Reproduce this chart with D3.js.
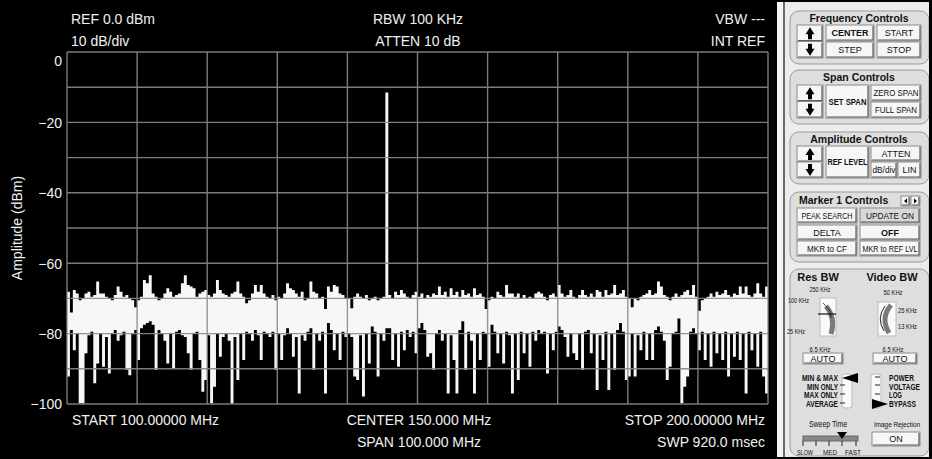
<!DOCTYPE html>
<html><head><meta charset="utf-8">
<script src="https://cdn.jsdelivr.net/npm/d3@7"></script>
<style>body{margin:0;background:#000}svg{display:block}</style>
</head><body>
<script>
// ---------- DATA ----------
const startMHz = 100, stopMHz = 200;
const yTicks = [0, -20, -40, -60, -80, -100];
const yGrid = [0, -10, -20, -30, -40, -50, -60, -70, -80, -90, -100];
const xGrid = [100, 110, 120, 130, 140, 150, 160, 170, 180, 190, 200];
const headerLeft = ["REF 0.0 dBm", "10 dB/div"];
const headerCenter = ["RBW 100 KHz", "ATTEN 10 dB"];
const headerRight = ["VBW ---", "INT REF"];
const footerLeft = ["START 100.00000 MHz"];
const footerCenter = ["CENTER 150.000 MHz", "SPAN 100.000 MHz"];
const footerRight = ["STOP 200.00000 MHz", "SWP 920.0 msec"];
const yTitle = "Amplitude (dBm)";

// max-hold trace (dBm), 240 bins across the span
const traceMax = [
-68.1,-74.0,-67.6,-68.6,-70.5,-70.0,-68.6,-68.1,-69.5,-69.0,
-65.2,-68.6,-68.6,-69.5,-70.0,-70.5,-69.0,-66.6,-68.1,-69.5,
-69.0,-70.0,-70.5,-72.5,-70.5,-69.5,-64.8,-65.7,-63.4,-68.6,
-69.5,-70.5,-70.0,-68.6,-67.1,-68.1,-69.5,-69.0,-68.6,-65.7,
-63.4,-66.2,-66.6,-67.1,-69.5,-68.6,-68.1,-67.6,-69.0,-69.5,
-68.6,-64.8,-67.6,-68.6,-69.0,-69.5,-68.6,-68.1,-65.2,-68.6,
-69.5,-71.4,-70.5,-68.6,-66.2,-68.1,-66.2,-68.6,-69.5,-70.0,
-69.0,-70.5,-69.5,-70.0,-68.6,-65.7,-67.1,-67.6,-68.6,-69.5,
-68.1,
-70.5,-70.0,-65.2,-68.1,-68.6,-70.0,-69.5,-73.0,-66.6,
-68.1,-66.2,-66.6,-68.6,-69.0,-70.0,-70.0,-72.8,-69.5,-68.6,
-69.5,-70.0,-69.0,-70.5,-70.0,-69.5,-70.5,-70.0,-69.5,-11.5,
-69.0,-70.0,-68.1,-69.0,-67.6,-68.6,-69.5,-70.0,-69.0,-68.1,
-69.5,-68.6,-70.0,-69.0,-69.5,-68.6,-69.0,-66.6,-69.0,-68.1,
-69.5,-67.1,-69.0,-68.1,-69.5,-67.6,-69.0,-68.6,-69.5,-67.1,
-69.0,-68.6,-69.5,-73.0,-70.5,-69.5,-70.0,-68.1,-69.0,-69.5,
-66.2,-68.6,-68.6,-69.5,-68.6,-70.0,-69.0,-70.0,-69.5,-70.0,
-68.6,
-68.1,-68.6,-69.5,-70.5,-69.0,-68.6,-69.5,-66.2,-68.6,
-69.5,-69.0,-67.6,-69.5,-70.0,-69.0,-67.6,-69.0,-69.5,-68.6,
-69.5,-67.6,-68.1,-69.5,-67.6,-69.0,-68.6,-66.2,-69.0,-68.6,
-67.6,-69.5,-70.0,-72.5,-70.0,-70.5,-69.5,-69.0,-68.6,-67.6,
-69.0,-68.6,-65.2,-66.6,-69.0,-69.5,-70.5,-69.5,-68.6,-69.5,
-69.0,-68.1,-67.6,-69.0,-66.2,-69.5,-73.5,-70.5,-70.0,-69.5,
-68.6,-69.5,-68.1,-69.0,-68.6,-67.6,-69.0,-69.5,-68.6,-69.0,
-66.6,-68.6,-66.6,-69.0,-69.5,-68.6,-65.7,-68.6,-69.5,-66.6
];
// min-hold trace (dBm), same bins
const traceMin = [
-92.2,-79.0,-84.7,-80.0,-99.8,-99.8,-85.6,-80.5,-79.5,-94.1,
-88.5,-80.0,-89.4,-81.0,-91.3,-80.0,-79.0,-82.0,-80.5,-79.5,
-90.3,-91.8,-80.0,-79.0,-87.5,-78.5,-77.5,-77.0,-76.5,-77.5,
-90.3,-79.0,-80.0,-82.0,-88.5,-80.0,-89.9,-79.5,-79.0,-80.5,
-81.0,-85.6,-90.3,-80.0,-79.5,-87.5,-96.5,-93.2,-80.5,-99.8,
-95.1,-80.0,-86.6,-81.0,-80.0,-82.0,-99.8,-81.0,-93.2,-80.0,
-87.5,-79.5,-80.0,-82.0,-79.0,-80.5,-87.5,-79.5,-80.0,-81.0,
-79.5,-90.3,-80.0,-87.5,-80.5,-78.5,-80.0,-86.6,-81.0,-97.0,
-80.5,
-82.0,-79.5,-78.5,-90.3,-80.0,-82.0,-79.5,-97.0,-77.0,
-79.0,-84.7,-80.0,-87.5,-79.5,-81.0,-80.0,-81.0,-92.2,-93.2,
-80.5,-97.9,-80.0,-88.5,-78.0,-79.5,-92.2,-80.0,-82.0,-78.5,
-78.5,-87.5,-80.0,-89.4,-79.5,-84.7,-79.0,-81.0,-79.5,-85.6,
-78.5,-77.0,-79.0,-86.6,-85.6,-90.3,-80.0,-79.0,-82.0,-80.0,
-97.0,-80.5,-87.5,-97.0,-79.0,-76.5,-90.3,-79.5,-82.0,-97.0,
-80.0,-87.5,-79.5,-80.0,-89.4,-77.5,-79.5,-85.6,-80.0,-88.5,
-79.5,-80.5,-97.0,-80.0,-93.2,-79.5,-85.6,-80.0,-89.4,-79.5,
-82.0,
-79.0,-80.0,-79.5,-91.3,-80.0,-84.7,-79.5,-78.0,-79.0,
-81.0,-86.6,-80.0,-85.6,-87.5,-80.0,-90.3,-79.5,-79.0,-85.6,
-80.0,-96.0,-80.5,-87.5,-79.5,-96.0,-80.0,-90.3,-79.0,-77.0,
-79.5,-93.2,-92.2,-80.0,-92.2,-80.5,-84.7,-79.5,-87.5,-80.0,
-87.5,-79.0,-78.0,-79.5,-82.0,-93.2,-89.4,-80.0,-79.5,-75.7,
-99.8,-95.1,-92.2,-79.5,-78.5,-80.0,-84.7,-79.5,-87.5,-80.0,
-89.4,-79.5,-85.6,-80.0,-87.5,-79.5,-92.2,-80.0,-86.6,-79.5,
-87.5,-80.0,-97.0,-79.5,-84.7,-80.0,-89.4,-79.5,-92.2,-97.0
];

// ---------- CHART ----------
const W = 932, H = 459;
const FONT = "'Liberation Sans', Arial, sans-serif";
const svg = d3.select("body").append("svg").attr("width", W).attr("height", H)
  .style("font-family", FONT);
svg.append("rect").attr("width", W).attr("height", H).attr("fill", "#000");

const m = {l: 67, r: 768, t: 52, b: 404};
const x = d3.scaleLinear().domain([startMHz, stopMHz]).range([m.l, m.r]);
const y = d3.scaleLinear().domain([-100, 0]).range([m.b, m.t]);
const txt = "#f0f0f0";

svg.append("clipPath").attr("id", "plotclip").append("rect")
  .attr("x", m.l).attr("y", m.t).attr("width", m.r - m.l).attr("height", m.b - m.t);

// trace (min/max envelope, one step per bin)
const n = traceMax.length;
const step = (stopMHz - startMHz) / n;
const bins = traceMax.map((v, i) => ({f: startMHz + i * step, hi: v, lo: traceMin[i]}));
bins.push({f: stopMHz, hi: traceMax[n - 1], lo: traceMin[n - 1]});
const area = d3.area().curve(d3.curveStepAfter)
  .x(d => x(d.f)).y0(d => y(d.lo)).y1(d => y(d.hi));
svg.append("path").datum(bins).attr("d", area).attr("fill", "#f7f7f7")
  .attr("clip-path", "url(#plotclip)");

// grid
const grid = svg.append("g").attr("stroke", "#8a8a8a").attr("stroke-width", 1.4).attr("opacity", 0.9);
grid.selectAll("line.h").data(yGrid).join("line").attr("class", "h")
  .attr("x1", m.l).attr("x2", m.r).attr("y1", d => y(d)).attr("y2", d => y(d));
grid.selectAll("line.v").data(xGrid).join("line").attr("class", "v")
  .attr("y1", m.t).attr("y2", m.b).attr("x1", d => x(d)).attr("x2", d => x(d));

// y axis labels
const yAxis = svg.append("g").attr("transform", `translate(${m.l - 5},0)`)
  .call(d3.axisLeft(y).tickValues(yTicks).tickSize(0).tickPadding(0).tickFormat(d3.format("d")));
yAxis.select(".domain").remove();
yAxis.selectAll("text").attr("fill", txt).style("font-size", "14px")
  .style("font-family", FONT)
  .attr("dy", d => d === 0 ? "0.95em" : "0.35em");

svg.append("text").attr("transform", `translate(22,${(m.t + m.b) / 2}) rotate(-90)`)
  .attr("text-anchor", "middle").attr("fill", txt).style("font-size", "14px").text(yTitle);

function lines(arr, xx, y0, anchor) {
  svg.selectAll(null).data(arr).join("text")
    .attr("x", xx).attr("y", (d, i) => y0 + i * 22).attr("text-anchor", anchor)
    .attr("fill", txt).style("font-size", "14px").text(d => d);
}
lines(headerLeft, 71, 24, "start");
lines(headerCenter, 418, 24, "middle");
lines(headerRight, 765, 24, "end");
lines(footerLeft, 72, 425, "start");
lines(footerCenter, 419, 425, "middle");
lines(footerRight, 765, 425, "end");

// ---------- CONTROL PANEL ----------
const P = svg.append("g").style("font-family", FONT);
P.append("rect").attr("x", 777).attr("y", 0).attr("width", 6).attr("height", H).attr("fill", "#f4f4f4");
P.append("rect").attr("x", 783).attr("y", 2).attr("width", 146).attr("height", 455).attr("fill", "#ececec");
P.append("rect").attr("x", 783).attr("y", 2).attr("width", 2).attr("height", 455).attr("fill", "#6a6a6a");

function group(gx, gy, gw, gh) {
  P.append("rect").attr("x", gx).attr("y", gy).attr("width", gw).attr("height", gh)
    .attr("rx", 9).attr("fill", "#dedede").attr("stroke", "#9a9a9a").attr("stroke-width", 1);
}
function label(tx, ty, t, size, bold, anchor, maxW) {
  const el = P.append("text").attr("x", tx).attr("y", ty).attr("text-anchor", anchor || "middle")
    .attr("fill", "#111").style("font-size", size + "px").style("font-weight", bold ? "bold" : "normal").text(t);
  if (maxW) {
    const w = el.node().getComputedTextLength();
    if (w > maxW) el.attr("textLength", maxW).attr("lengthAdjust", "spacingAndGlyphs");
  }
  return el;
}
function button(bx, by, bw, bh, t, bold, fill, tw) {
  P.append("rect").attr("x", bx).attr("y", by).attr("width", bw).attr("height", bh)
    .attr("fill", fill || "#f6f6f6").attr("stroke", "#8a8a8a").attr("stroke-width", 1);
  P.append("path").attr("d", `M${bx + 1},${by + bh - 1}H${bx + bw - 1}V${by + 1}`)
    .attr("fill", "none").attr("stroke", "#5a5a5a").attr("stroke-width", 1.2);
  if (t) label(bx + bw / 2, by + bh / 2 + 3.3, t, 9, bold, "middle", tw || bw - 8);
}
function arrows(ax, ay, aw, ah) {
  const h2 = ah / 2;
  button(ax, ay, aw, h2);
  button(ax, ay + h2, aw, h2);
  const cx = ax + aw / 2, c1 = ay + h2 / 2, c2 = ay + h2 + h2 / 2;
  P.append("path").attr("d", `M${cx - 4.5},${c1 + 1}L${cx},${c1 - 6}L${cx + 4.5},${c1 + 1}Z M${cx - 2},${c1}h4v6h-4Z`).attr("fill", "#000");
  P.append("path").attr("d", `M${cx - 4.5},${c2 - 1}L${cx},${c2 + 6}L${cx + 4.5},${c2 - 1}Z M${cx - 2},${c2}h4v-6h-4Z`).attr("fill", "#000");
}

// Frequency
group(790, 11, 139, 53);
label(859, 22, "Frequency Controls", 10.5, true);
arrows(797, 25, 26, 33);
button(826, 25, 48, 16, "CENTER", true);
button(877, 25, 44, 16, "START");
button(826, 42, 48, 16, "STEP");
button(877, 42, 44, 16, "STOP");

// Span
group(790, 70, 139, 54);
label(859, 81, "Span Controls", 10.5, true);
arrows(797, 85, 26, 33);
button(826, 85, 43, 33, "SET SPAN", true, null, 38);
button(871, 85, 50, 16, "ZERO SPAN", false, null, 45);
button(871, 102, 50, 16, "FULL SPAN", false, null, 42);

// Amplitude
group(790, 132, 139, 52);
label(859, 143, "Amplitude Controls", 10.5, true);
arrows(797, 146, 26, 32);
button(826, 146, 43, 32, "REF LEVEL", true, null, 40);
button(871, 146, 50, 15, "ATTEN");
button(871, 162, 26, 16, "dB/div", false, null, 23);
button(898, 162, 23, 16, "LIN");

// Marker
group(790, 192, 139, 70);
label(799, 204, "Marker 1 Controls", 10.5, true, "start");
button(901, 196, 9, 10); button(911, 196, 9, 10);
P.append("path").attr("d", "M907,198.5L904,201L907,203.5Z M914,198.5L917,201L914,203.5Z").attr("fill", "#000");
button(797, 208, 60, 15, "PEAK SEARCH", false, null, 51);
button(860, 208, 60, 15, "UPDATE ON", false, "#d8d8d8", 48);
button(797, 225, 60, 15, "DELTA");
button(860, 225, 60, 15, "OFF", true);
button(797, 241, 60, 15, "MKR to CF", false, null, 40);
button(860, 241, 60, 15, "MKR to REF LVL", false, null, 55);

// BW group
group(790, 269, 139, 187);
label(818, 281, "Res BW", 11, true);
label(892, 281, "Video BW", 11, true);
// res knob
label(820, 292, "250 KHz", 7.5, false, "middle", 21);
label(788, 303, "100 KHz", 7.5, false, "start", 21);
label(787, 334, "25 KHz", 7.5, false, "start", 18);
label(820, 352, "6.5 KHz", 7.5, false, "middle", 21);
P.append("rect").attr("x", 820).attr("y", 298).attr("width", 16).attr("height", 38).attr("fill", "#fafafa").attr("stroke", "#bbb");
P.append("path").attr("d", "M826,306 Q836,318 831,334").attr("fill", "none").attr("stroke", "#7a7a7a").attr("stroke-width", 5);
P.append("path").attr("d", "M823,303 Q832,311 831,318").attr("fill", "none").attr("stroke", "#222").attr("stroke-width", 0.8);
P.append("line").attr("x1", 818).attr("x2", 836).attr("y1", 314).attr("y2", 314).attr("stroke", "#111").attr("stroke-width", 1.2);
// video knob
label(893, 295, "50 KHz", 7.5, false, "middle", 19);
label(898, 313, "25 KHz", 7.5, false, "start", 19);
label(898, 329, "13 KHz", 7.5, false, "start", 19);
label(893, 352, "6.5 KHz", 7.5, false, "middle", 21);
P.append("rect").attr("x", 878).attr("y", 302).attr("width", 18).attr("height", 34).attr("fill", "#fafafa").attr("stroke", "#bbb");
P.append("path").attr("d", "M891,305 Q880,318 889,333").attr("fill", "none").attr("stroke", "#7a7a7a").attr("stroke-width", 5);
P.append("path").attr("d", "M885,306 Q876,318 884,331").attr("fill", "none").attr("stroke", "#222").attr("stroke-width", 1);
// AUTO buttons
button(803, 353, 40, 11, "AUTO");
button(873, 353, 44, 11, "AUTO");
// Trace mode selector
const modes = ["MIN & MAX", "MIN ONLY", "MAX ONLY", "AVERAGE"];
const modeW = [36, 31, 34, 32];
const detect = ["POWER", "VOLTAGE", "LOG", "BYPASS"];
const detectW = [25, 31, 13, 27];
modes.forEach((t, i) => label(838, 381 + i * 8.7, t, 8.5, true, "end", modeW[i]));
detect.forEach((t, i) => label(889, 381 + i * 8.7, t, 8.5, true, "start", detectW[i]));
P.append("rect").attr("x", 842).attr("y", 374).attr("width", 10).attr("height", 34).attr("rx", 3).attr("fill", "#fafafa").attr("stroke", "#bbb");
P.append("rect").attr("x", 871).attr("y", 374).attr("width", 10).attr("height", 34).attr("rx", 3).attr("fill", "#fafafa").attr("stroke", "#bbb");
[386, 395, 404].forEach(yy => P.append("line").attr("x1", 840).attr("x2", 845).attr("y1", yy - 1).attr("y2", yy - 1).attr("stroke", "#222"));
[378, 386, 395].forEach(yy => P.append("line").attr("x1", 875).attr("x2", 880).attr("y1", yy - 1).attr("y2", yy - 1).attr("stroke", "#222"));
P.append("path").attr("d", "M842,378L858,373L858,383Z").attr("fill", "#000");
P.append("path").attr("d", "M872,399L888,404L872,409Z").attr("fill", "#000");
// sweep time
label(828, 427, "Sweep Time", 8.5, false, "middle", 38);
P.append("rect").attr("x", 803).attr("y", 436).attr("width", 55).attr("height", 5).attr("fill", "#888").attr("stroke", "#666");
[803, 816, 829, 842, 856].forEach(xx => P.append("line").attr("x1", xx).attr("x2", xx).attr("y1", 441).attr("y2", 446).attr("stroke", "#222"));
P.append("path").attr("d", "M837,432L847,432L842,439Z").attr("fill", "#000");
label(805, 455, "SLOW", 7.5, false, "middle", 16);
label(830, 455, "MED", 7.5, false, "middle", 14);
label(853, 455, "FAST", 7.5, false, "middle", 16);
// image rejection
label(897, 427, "Image Rejection", 8, false, "middle", 46);
button(872, 432, 48, 14, "ON");

// outer frame
P.append("rect").attr("x", 929).attr("y", 0).attr("width", 3).attr("height", H).attr("fill", "#000");
P.append("rect").attr("x", 777).attr("y", 0).attr("width", 155).attr("height", 2).attr("fill", "#000");
P.append("rect").attr("x", 777).attr("y", 457).attr("width", 155).attr("height", 2).attr("fill", "#000");
</script>
</body></html>
